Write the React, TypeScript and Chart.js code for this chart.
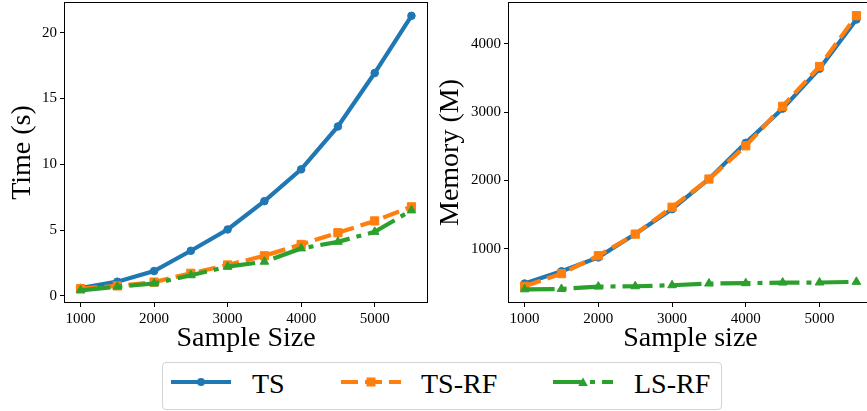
import React, { useEffect, useRef } from "react";
import { Chart, registerables } from "chart.js";

Chart.register(...registerables);

const sampleSizes = [1000, 1500, 2000, 2500, 3000, 3500, 4000, 4500, 5000, 5500];
const timeTS = [0.6, 1.08, 1.89, 3.43, 5.05, 7.2, 9.62, 12.88, 16.94, 21.29];
const timeTSRF = [0.55, 0.76, 1.05, 1.72, 2.35, 3.05, 3.91, 4.8, 5.7, 6.77];
const timeLSRF = [0.42, 0.7, 0.94, 1.57, 2.22, 2.6, 3.61, 4.11, 4.87, 6.5];
const memTS = [490, 669, 873, 1214, 1579, 2021, 2550, 3052, 3636, 4356];
const memTSRF = [450, 635, 898, 1214, 1608, 2020, 2507, 3086, 3669, 4413];
const memLSRF = [405, 410, 445, 450, 465, 490, 495, 504, 505, 515];
const xTicks = [1000, 2000, 3000, 4000, 5000];
const timeTicks = [0, 5, 10, 15, 20];
const memTicks = [1000, 2000, 3000, 4000];
const seriesLabels = ["TS", "TS-RF", "LS-RF"];

const BLUE = "#1f77b4";
const ORANGE = "#ff7f0e";
const GREEN = "#2ca02c";
const FONT = "'Liberation Serif', 'DejaVu Serif', serif";
const DASHED = [17, 7];
const DASHDOT = [30, 7, 5, 7];

const framePlugin = {
  id: "frame",
  afterDraw(chart: any) {
    const { ctx, chartArea } = chart;
    const x0 = Math.floor(chartArea.left) + 0.5;
    const x1 = Math.floor(chartArea.right) - 0.5;
    const y0 = Math.floor(chartArea.top) + 0.5;
    const y1 = Math.floor(chartArea.bottom) - 0.5;
    ctx.save();
    ctx.strokeStyle = "#000";
    ctx.lineWidth = 1;
    ctx.strokeRect(x0, y0, x1 - x0, y1 - y0);
    ctx.restore();
  },
};

function zeroPad(s: any) {
  s.paddingLeft = 0;
  s.paddingRight = 0;
  s.paddingTop = 0;
  s.paddingBottom = 0;
}

function makeDatasets(a: number[], b: number[], c: number[]) {
  const pts = (arr: number[]) => arr.map((y, i) => ({ x: sampleSizes[i], y }));
  return [
    {
      label: seriesLabels[0],
      data: pts(a),
      borderColor: BLUE,
      backgroundColor: BLUE,
      borderWidth: 4.2,
      pointStyle: "circle",
      pointRadius: 3.8,
      pointBorderWidth: 1,
      order: 3,
    },
    {
      label: seriesLabels[1],
      data: pts(b),
      borderColor: ORANGE,
      backgroundColor: ORANGE,
      borderWidth: 4.2,
      borderDash: DASHED,
      pointStyle: "rect",
      pointRadius: 5.8,
      pointBorderWidth: 1,
      order: 2,
    },
    {
      label: seriesLabels[2],
      data: pts(c),
      borderColor: GREEN,
      backgroundColor: GREEN,
      borderWidth: 4.2,
      borderDash: DASHDOT,
      pointStyle: "triangle",
      pointRadius: 5,
      pointBorderWidth: 1,
      order: 1,
    },
  ];
}

function makeConfig(opts: {
  a: number[];
  b: number[];
  c: number[];
  yMin: number;
  yMax: number;
  yTicks: number[];
  yTitle: string;
  xTitle: string;
  yWidth: number;
  yTitlePad: number;
  padRight: number;
}) {
  const tickFont = { family: FONT, size: 15 };
  const titleFont = { family: FONT, size: 28 };
  return {
    type: "line" as const,
    data: { datasets: makeDatasets(opts.a, opts.b, opts.c) },
    plugins: [framePlugin],
    options: {
      animation: false,
      responsive: false,
      maintainAspectRatio: false,
      layout: { autoPadding: false, padding: { left: 0, top: 2, right: opts.padRight, bottom: 0 } },
      plugins: { legend: { display: false }, tooltip: { enabled: false } },
      elements: { line: { tension: 0, capBezierPoints: false } },
      scales: {
        x: {
          type: "linear",
          min: 775,
          max: 5725,
          afterBuildTicks: (s: any) => {
            s.ticks = xTicks.map((v) => ({ value: v }));
          },
          afterFit: (s: any) => {
            s.height = 57;
            zeroPad(s);
          },
          grid: { display: true, drawOnChartArea: false, drawTicks: true, tickLength: 4, color: "#000", lineWidth: 1 },
          border: { display: false },
          ticks: {
            color: "#000",
            font: tickFont,
            padding: 3,
            maxRotation: 0,
            autoSkip: false,
            callback: (v: any) => String(v),
          },
          title: {
            display: true,
            text: opts.xTitle,
            color: "#000",
            font: titleFont,
            padding: { top: 0, bottom: 5 },
          },
        },
        y: {
          type: "linear",
          min: opts.yMin,
          max: opts.yMax,
          afterBuildTicks: (s: any) => {
            s.ticks = opts.yTicks.map((v) => ({ value: v }));
          },
          afterFit: (s: any) => {
            s.width = opts.yWidth;
            zeroPad(s);
          },
          grid: { display: true, drawOnChartArea: false, drawTicks: true, tickLength: 4, color: "#000", lineWidth: 1 },
          border: { display: false },
          ticks: {
            color: "#000",
            font: tickFont,
            padding: 3,
            autoSkip: false,
            callback: (v: any) => String(v),
          },
          title: {
            display: true,
            text: opts.yTitle,
            color: "#000",
            font: titleFont,
            padding: { top: opts.yTitlePad, bottom: 0 },
          },
        },
      },
    },
  };
}

function ChartCanvas(props: { config: any; left: number; width: number; height: number }) {
  const ref = useRef<HTMLCanvasElement | null>(null);
  useEffect(() => {
    if (!ref.current) return;
    const chart = new Chart(ref.current, props.config);
    return () => chart.destroy();
  }, []);
  return (
    <canvas
      ref={ref}
      width={props.width}
      height={props.height}
      style={{ position: "absolute", left: props.left, top: 0, width: props.width, height: props.height, display: "block" }}
    />
  );
}

function Swatch(props: { color: string; dash?: number[]; marker: "circle" | "rect" | "triangle" }) {
  const w = 60;
  const h = 16;
  const cy = h / 2;
  const cx = w / 2;
  let m: any = null;
  if (props.marker === "circle") m = <circle cx={cx} cy={cy} r={4} fill={props.color} />;
  if (props.marker === "rect") m = <rect x={cx - 4.5} y={cy - 4.5} width={9} height={9} fill={props.color} />;
  if (props.marker === "triangle")
    m = <polygon points={`${cx},${cy - 4.5} ${cx - 4.8},${cy + 4} ${cx + 4.8},${cy + 4}`} fill={props.color} />;
  return (
    <svg width={w} height={h} style={{ display: "block" }}>
      <line
        x1={0}
        y1={cy}
        x2={w}
        y2={cy}
        stroke={props.color}
        strokeWidth={4.2}
        strokeDasharray={props.dash ? props.dash.join(" ") : undefined}
      />
      {m}
    </svg>
  );
}

export default function App() {
  const leftCfg = makeConfig({
    a: timeTS,
    b: timeTSRF,
    c: timeLSRF,
    yMin: -0.54,
    yMax: 22.34,
    yTicks: timeTicks,
    yTitle: "Time (s)",
    xTitle: "Sample Size",
    yWidth: 64,
    yTitlePad: 6,
    padRight: 7,
  });
  const rightCfg = makeConfig({
    a: memTS,
    b: memTSRF,
    c: memLSRF,
    yMin: 205,
    yMax: 4613,
    yTicks: memTicks,
    yTitle: "Memory (M)",
    xTitle: "Sample size",
    yWidth: 78,
    yTitlePad: 4,
    padRight: 0,
  });

  const items = [
    { label: seriesLabels[0], color: BLUE, marker: "circle" as const, dash: undefined, sx: 171, tx: 252 },
    { label: seriesLabels[1], color: ORANGE, marker: "rect" as const, dash: DASHED, sx: 341, tx: 421 },
    { label: seriesLabels[2], color: GREEN, marker: "triangle" as const, dash: DASHDOT, sx: 553, tx: 634 },
  ];

  return (
    <div style={{ position: "fixed", left: 0, top: 0, width: 867, height: 411, background: "#fff", overflow: "hidden" }}>
      <ChartCanvas config={leftCfg} left={0} width={435} height={360} />
      <ChartCanvas config={rightCfg} left={430} width={443} height={360} />
      <div
        style={{
          position: "absolute",
          left: 162,
          top: 362,
          width: 558,
          height: 46,
          border: "1px solid #d3d3d3",
          borderRadius: 4,
          background: "rgba(255,255,255,0.8)",
        }}
      />
      {items.map((it) => (
        <React.Fragment key={it.label}>
          <div style={{ position: "absolute", left: it.sx, top: 382 - 8 }}>
            <Swatch color={it.color} dash={it.dash} marker={it.marker} />
          </div>
          <span
            style={{
              position: "absolute",
              left: it.tx,
              top: 369.5,
              fontFamily: FONT,
              fontSize: 28,
              lineHeight: "28px",
              color: "#000",
              whiteSpace: "nowrap",
            }}
          >
            {it.label}
          </span>
        </React.Fragment>
      ))}
    </div>
  );
}
